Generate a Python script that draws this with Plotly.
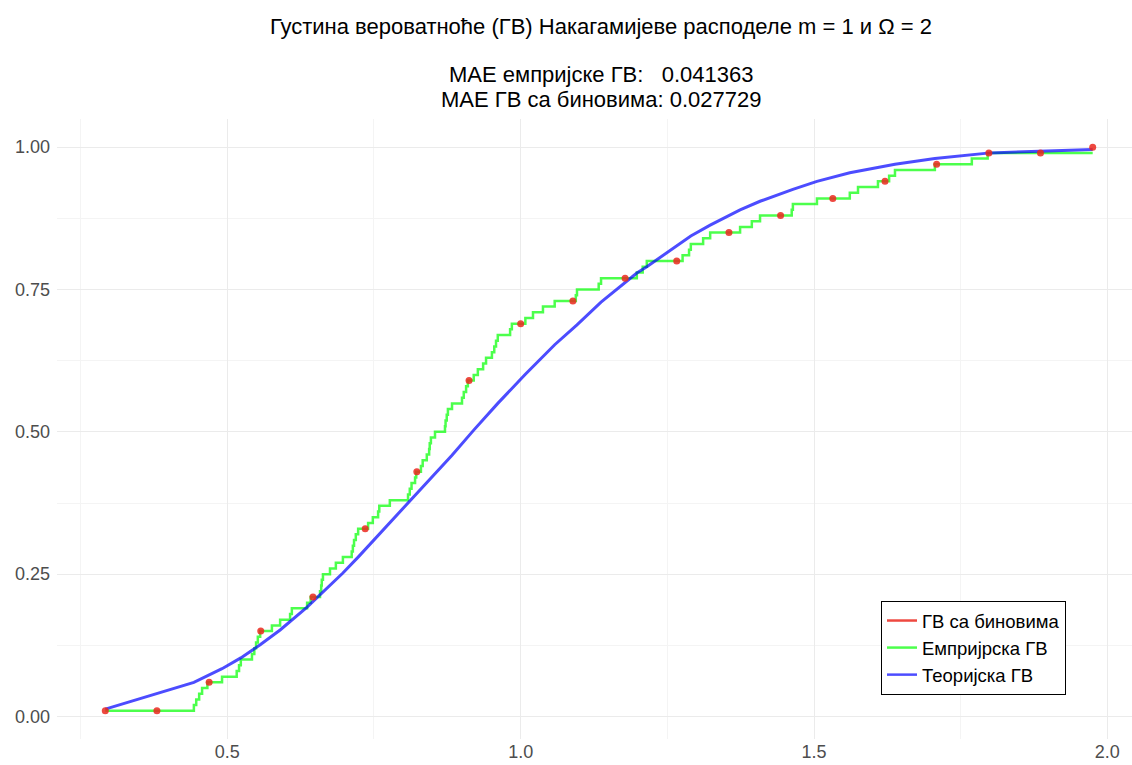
import plotly.graph_objects as go

# Sorted sample values (empirical CDF step locations) and CDF level after each step
emp_x = [0.292, 0.443, 0.447, 0.452, 0.457, 0.466, 0.491, 0.516, 0.520, 0.523,
         0.542, 0.546, 0.549, 0.552, 0.556, 0.576, 0.590, 0.607, 0.610, 0.636,
         0.642, 0.658, 0.660, 0.661, 0.663, 0.675, 0.685, 0.697, 0.712, 0.714,
         0.716, 0.719, 0.723, 0.740, 0.748, 0.757, 0.759, 0.777, 0.808, 0.811,
         0.814, 0.820, 0.822, 0.830, 0.833, 0.840, 0.844, 0.845, 0.847, 0.854,
         0.871, 0.872, 0.874, 0.876, 0.883, 0.900, 0.903, 0.907, 0.910, 0.920,
         0.927, 0.936, 0.941, 0.951, 0.955, 0.958, 0.961, 0.982, 0.985, 1.008,
         1.021, 1.038, 1.058, 1.094, 1.096, 1.133, 1.137, 1.198, 1.208, 1.215,
         1.276, 1.287, 1.290, 1.311, 1.323, 1.374, 1.394, 1.408, 1.462, 1.464,
         1.505, 1.561, 1.575, 1.609, 1.628, 1.638, 1.706, 1.769, 1.796, 1.975]
emp_y = [0.01, 0.02, 0.03, 0.04, 0.05, 0.06, 0.07, 0.08, 0.09, 0.10,
         0.11, 0.12, 0.13, 0.14, 0.15, 0.16, 0.17, 0.18, 0.19, 0.20,
         0.21, 0.22, 0.23, 0.24, 0.25, 0.26, 0.27, 0.28, 0.29, 0.30,
         0.31, 0.32, 0.33, 0.34, 0.35, 0.36, 0.37, 0.38, 0.39, 0.40,
         0.41, 0.42, 0.43, 0.44, 0.45, 0.46, 0.47, 0.48, 0.49, 0.50,
         0.51, 0.52, 0.53, 0.54, 0.55, 0.56, 0.57, 0.58, 0.59, 0.60,
         0.61, 0.62, 0.63, 0.64, 0.65, 0.66, 0.67, 0.68, 0.69, 0.70,
         0.71, 0.72, 0.73, 0.74, 0.75, 0.76, 0.77, 0.78, 0.79, 0.80,
         0.81, 0.82, 0.83, 0.84, 0.85, 0.86, 0.87, 0.88, 0.89, 0.90,
         0.91, 0.92, 0.93, 0.94, 0.95, 0.96, 0.97, 0.98, 0.99, 0.99]

# Theoretical CDF evaluated at selected sample points
theo_x = [0.292, 0.443, 0.491, 0.523, 0.556, 0.590, 0.636, 0.663, 0.697, 0.723,
          0.759, 0.808, 0.847, 0.883, 0.920, 0.961, 1.008, 1.058, 1.096, 1.137,
          1.198, 1.215, 1.290, 1.323, 1.374, 1.408, 1.464, 1.505, 1.561, 1.609,
          1.638, 1.706, 1.769, 1.800, 1.975]
theo_y = [0.013, 0.060, 0.084, 0.103, 0.126, 0.152, 0.192, 0.218, 0.252, 0.280,
          0.320, 0.374, 0.418, 0.459, 0.503, 0.550, 0.601, 0.653, 0.688, 0.728,
          0.779, 0.790, 0.844, 0.863, 0.890, 0.905, 0.926, 0.940, 0.955, 0.965,
          0.970, 0.980, 0.986, 0.990, 0.996]

# Binned CDF
bin_x = [0.292, 0.380, 0.469, 0.557, 0.646, 0.735, 0.823, 0.912, 1.000, 1.089,
         1.178, 1.266, 1.355, 1.443, 1.532, 1.621, 1.709, 1.798, 1.886, 1.975]
bin_y = [0.01, 0.01, 0.06, 0.15, 0.21, 0.33, 0.43, 0.59, 0.69, 0.73,
         0.77, 0.80, 0.85, 0.88, 0.91, 0.94, 0.97, 0.99, 0.99, 1.00]

x_ticks = [0.5, 1.0, 1.5, 2.0]
x_labels = ["0.5", "1.0", "1.5", "2.0"]
y_ticks = [0.0, 0.25, 0.5, 0.75, 1.0]
y_labels = ["0.00", "0.25", "0.50", "0.75", "1.00"]

title_lines = ["Густина вероватноће (ГВ) Накагамијеве расподеле m = 1 и Ω = 2",
               "МАЕ емпријске ГВ:   0.041363",
               "МАЕ ГВ са биновима: 0.027729"]

RED = "rgba(235,40,30,0.85)"
GREEN = "rgba(0,255,0,0.7)"
BLUE = "rgba(0,0,255,0.7)"
FONT = "Liberation Sans, Arial, sans-serif"

W, H = 1132, 765
L, R, T, B = 57, 0, 119, 26
PH = H - T - B

fig = go.Figure()

# legend-only keys (drawn as short lines)
fig.add_trace(go.Scatter(x=[None], y=[None], mode="lines", name="ГВ са биновима",
                         line=dict(color=RED, width=2.5)))
fig.add_trace(go.Scatter(x=[None], y=[None], mode="lines", name="Емпријрска ГВ",
                         line=dict(color=GREEN, width=2.5)))
fig.add_trace(go.Scatter(x=[None], y=[None], mode="lines", name="Теоријска ГВ",
                         line=dict(color=BLUE, width=2.5)))

fig.add_trace(go.Scatter(x=emp_x, y=emp_y, mode="lines", line_shape="hv",
                         line=dict(color=GREEN, width=2.5), showlegend=False,
                         hoverinfo="skip"))
fig.add_trace(go.Scatter(x=theo_x, y=theo_y, mode="lines",
                         line=dict(color=BLUE, width=3), showlegend=False,
                         hoverinfo="skip"))
fig.add_trace(go.Scatter(x=bin_x, y=bin_y, mode="markers",
                         marker=dict(color=RED, size=7, line=dict(width=0)),
                         showlegend=False, hoverinfo="skip"))

# three-line title, each line placed at its own height
title_y = [27, 74, 99]
for text, py in zip(title_lines, title_y):
    fig.add_annotation(text=text, xref="paper", yref="paper",
                       x=(601 - L) / (W - L - R), y=(H - B - py) / PH,
                       xanchor="center", yanchor="middle", showarrow=False,
                       font=dict(family=FONT, size=22, color="#000000"))

fig.update_layout(
    width=W, height=H,
    margin=dict(l=L, r=R, t=T, b=B),
    paper_bgcolor="white", plot_bgcolor="white",
    font=dict(family=FONT, color="#000000"),
    legend=dict(x=(881 - L) / (W - L - R), y=(H - B - 601) / PH,
                xanchor="left", yanchor="top",
                bordercolor="#000000", borderwidth=1, bgcolor="white",
                font=dict(family=FONT, size=18.5, color="#000000"),
                tracegroupgap=0),
    showlegend=True,
)

fig.update_xaxes(range=[0.2097, 2.042], tickvals=x_ticks, ticktext=x_labels,
                 showgrid=True, gridcolor="#ebebeb", gridwidth=1, zeroline=False,
                 showline=False, ticks="", tickfont=dict(family=FONT, size=18, color="#4d4d4d"),
                 minor=dict(tickvals=[0.25, 0.75, 1.25, 1.75], showgrid=True,
                            gridcolor="#f4f4f4", gridwidth=1))
fig.update_yaxes(range=[-0.0395, 1.0495], tickvals=y_ticks, ticktext=y_labels,
                 showgrid=True, gridcolor="#ebebeb", gridwidth=1, zeroline=False,
                 showline=False, ticks="", ticklabelstandoff=6,
                 tickfont=dict(family=FONT, size=18, color="#4d4d4d"),
                 minor=dict(tickvals=[0.125, 0.375, 0.625, 0.875], showgrid=True,
                            gridcolor="#f4f4f4", gridwidth=1))

fig.write_html("out.html")
